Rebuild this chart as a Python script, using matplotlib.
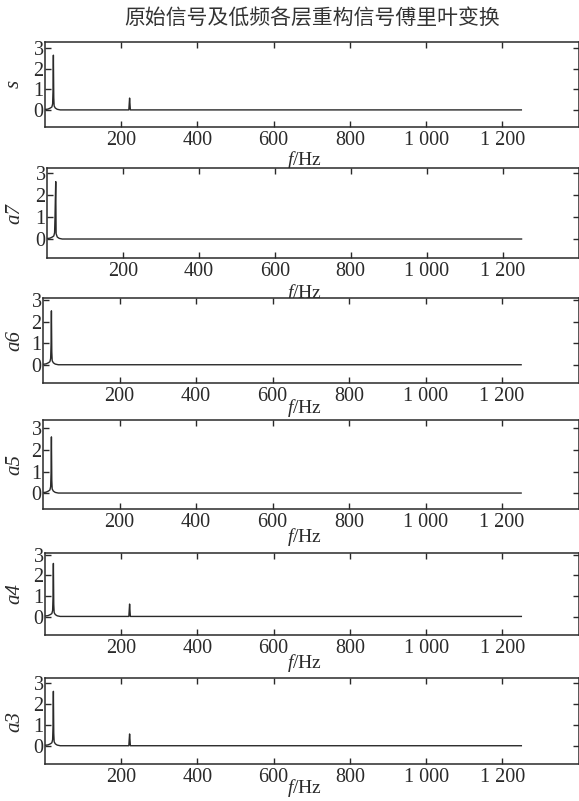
import matplotlib
matplotlib.use("Agg")
import matplotlib.pyplot as plt

plt.rcParams['mathtext.fontset'] = 'custom'
plt.rcParams['mathtext.rm'] = 'Liberation Serif'
plt.rcParams['mathtext.it'] = 'Liberation Serif:italic'
plt.rcParams['font.family'] = ['Liberation Serif', 'DejaVu Serif']

# ---- data ----
title = "原始信号及低频各层重构信号傅里叶变换"
panel_names = ["s", "a7", "a6", "a5", "a4", "a3"]
freq = [0, 8, 14, 18, 20, 21, 22, 23, 24, 27, 32, 40, 220, 221, 222, 223, 224, 1250]
s_amp  = [0.03, 0.05, 0.10, 0.15, 0.30, 0.90, 2.65, 0.60, 0.20, 0.10, 0.04, 0.01, 0.01, 0.30, 0.58, 0.30, 0.01, 0.01]
a7_amp = [0.03, 0.05, 0.10, 0.15, 0.30, 0.90, 1.80, 2.60, 0.25, 0.10, 0.04, 0.01, 0.01, 0.01, 0.01, 0.01, 0.01, 0.01]
a6_amp = [0.03, 0.05, 0.10, 0.15, 0.30, 0.90, 2.50, 0.60, 0.20, 0.10, 0.04, 0.01, 0.01, 0.01, 0.01, 0.01, 0.01, 0.01]
a5_amp = [0.03, 0.05, 0.10, 0.15, 0.30, 0.90, 2.60, 0.60, 0.20, 0.10, 0.04, 0.01, 0.01, 0.01, 0.01, 0.01, 0.01, 0.01]
a4_amp = [0.03, 0.05, 0.10, 0.15, 0.30, 0.90, 2.58, 0.60, 0.20, 0.10, 0.04, 0.01, 0.01, 0.30, 0.61, 0.30, 0.01, 0.01]
a3_amp = [0.03, 0.05, 0.10, 0.15, 0.30, 0.90, 2.60, 0.60, 0.20, 0.10, 0.04, 0.01, 0.01, 0.30, 0.57, 0.30, 0.01, 0.01]
amps = [s_amp, a7_amp, a6_amp, a5_amp, a4_amp, a3_amp]
xticks = [200, 400, 600, 800, 1000, 1200]
xticklabels = ["200", "400", "600", "800", "1 000", "1 200"]
yticks = [0, 1, 2, 3]
ylims = [(-0.8, 3.3), (-0.86, 3.2), (-0.82, 3.08), (-0.74, 3.38), (-0.89, 3.1), (-0.86, 3.22)]

# ---- layout (pixels: top, bottom, left, xlabel centre offset below axes) ----
W, H = 579, 801
boxes = [(41.7, 126.7, 45, 33), (168.3, 258.3, 47, 35), (298.3, 382.7, 43, 25),
         (420.0, 509.3, 43, 28), (552.7, 635.0, 45, 28), (678.3, 764.0, 45, 24)]
right_px = 578.5
col = '#2a2a2a'

fig = plt.figure(figsize=(W / 100, H / 100), dpi=100)
fig.text(312 / W, 1 - 18 / H, title, ha='center', va='center',
         fontsize=15, color='#333333', family=['Noto Sans CJK SC', 'DejaVu Sans'])

for name, amp, yl, (top, bot, left, xoff) in zip(panel_names, amps, ylims, boxes):
    ax = fig.add_axes([left / W, 1 - bot / H, (right_px - left) / W, (bot - top) / H])
    ax.plot(freq, amp, color=col, lw=1.0)
    ax.set_xlim(0, 1400)
    ax.set_ylim(*yl)
    ax.set_xticks(xticks)
    ax.set_xticklabels(xticklabels)
    ax.set_yticks(yticks)
    ax.tick_params(direction='in', length=4, width=1.0, colors=col,
                   labelsize=14.5, top=True, right=True)
    ax.tick_params(axis='y', pad=1)
    ax.tick_params(axis='x', pad=3)
    for sp in ax.spines.values():
        sp.set_color(col)
        sp.set_linewidth(1.1)
    wpx = right_px - left
    hpx = bot - top
    ax.set_ylabel(name, fontsize=15, fontstyle='italic', color=col)
    ax.yaxis.set_label_coords(-(left - 24) / wpx, 0.5)
    ax.set_xlabel("$f$/Hz", fontsize=14, color=col, va='center')
    ax.xaxis.set_label_coords((305 - left) / wpx, -xoff / hpx)

fig.savefig("out.png", dpi=100)
